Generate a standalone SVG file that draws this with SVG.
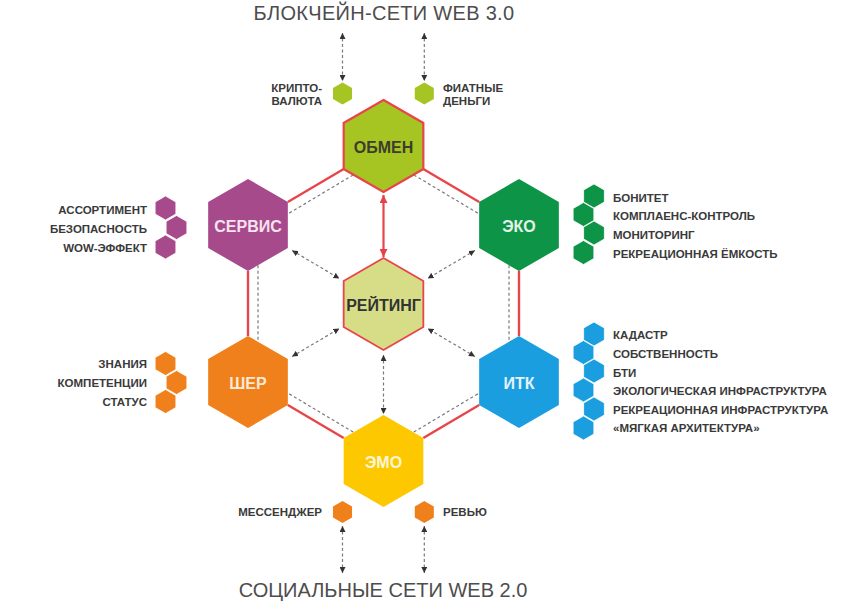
<svg xmlns="http://www.w3.org/2000/svg" xmlns:xlink="http://www.w3.org/1999/xlink" width="864" height="616" viewBox="0 0 864 616">
<style>
.title{font-family:"Liberation Sans",Arial,sans-serif;fill:#4d4d4d}
.lbl{font-family:"Liberation Sans",Arial,sans-serif;font-weight:bold;font-size:11.5px;fill:#3a3a3a}
.hl{font-family:"Liberation Sans",Arial,sans-serif;font-weight:bold;font-size:16px;text-anchor:middle}
.red{stroke:#e8454a;stroke-width:2.4;fill:none}
.dash{stroke:#7a7a7a;stroke-width:1.2;stroke-dasharray:3 2.5;fill:none}
.arr{marker-start:url(#ah);marker-end:url(#ah)}
.lime{fill:#a6c523}.pale{fill:#d6dd86}.purple{fill:#a64a8b}.green{fill:#0d9447}.orange{fill:#ef801b}.blue{fill:#1a9ee0}.yellow{fill:#fec800}
.sm{stroke:#fff;stroke-width:0.8}
</style>
<defs>
<polygon id="hx" points="0,-46 39.84,-23 39.84,23 0,46 -39.84,23 -39.84,-23"/>
<polygon id="sh" points="0,-12 10.39,-6 10.39,6 0,12 -10.39,6 -10.39,-6"/>
<polygon id="th" points="0,-11 9.53,-5.5 9.53,5.5 0,11 -9.53,5.5 -9.53,-5.5"/>
<marker id="ah" viewBox="0 0 10 10" refX="10" refY="5" markerWidth="6" markerHeight="6" markerUnits="userSpaceOnUse" orient="auto-start-reverse"><path d="M0,0 L10,5 L0,10 z" fill="#333"/></marker>
<marker id="rh" viewBox="0 0 10 10" refX="10" refY="5" markerWidth="8" markerHeight="8" markerUnits="userSpaceOnUse" orient="auto-start-reverse"><path d="M0,0 L10,5 L0,10 z" fill="#e8404a"/></marker>
</defs>
<rect width="864" height="616" fill="#fff"/>

<text class="title" x="384" y="20" font-size="20" letter-spacing="0.3" text-anchor="middle">БЛОКЧЕЙН-СЕТИ WEB 3.0</text>
<text class="title" x="383" y="597" font-size="20" text-anchor="middle">СОЦИАЛЬНЫЕ СЕТИ WEB 2.0</text>

<g id="connectors">
<line class="red" x1="343.7" y1="169" x2="287.8" y2="202"/>
<line class="red" x1="423.3" y1="169" x2="479.2" y2="202"/>
<line class="red" x1="248" y1="271" x2="248" y2="336"/>
<line class="red" x1="519" y1="271" x2="519" y2="336"/>
<line class="red" x1="287.8" y1="405" x2="343.7" y2="438"/>
<line class="red" x1="479.2" y1="405" x2="423.3" y2="438"/>
<line class="dash" x1="353.2" y1="174.9" x2="287.8" y2="214"/>
<line class="dash" x1="413.8" y1="174.9" x2="479.2" y2="214"/>
<line class="dash" x1="258" y1="265.2" x2="258" y2="341.8"/>
<line class="dash" x1="509" y1="265.2" x2="509" y2="341.8"/>
<line class="dash" x1="353.2" y1="432.1" x2="287.8" y2="393"/>
<line class="dash" x1="413.8" y1="432.1" x2="479.2" y2="393"/>
<line class="dash arr" x1="292.1" y1="250.5" x2="339.4" y2="278.5"/>
<line class="dash arr" x1="474.9" y1="250.5" x2="427.6" y2="278.5"/>
<line class="dash arr" x1="292.1" y1="356.5" x2="339.4" y2="328.5"/>
<line class="dash arr" x1="474.9" y1="356.5" x2="427.6" y2="328.5"/>
<line class="dash arr" x1="383.5" y1="355" x2="383.5" y2="414"/>
<line stroke="#e8454a" stroke-width="2.2" x1="383.5" y1="195" x2="383.5" y2="257" marker-start="url(#rh)" marker-end="url(#rh)"/>
<line class="dash arr" x1="342.5" y1="33" x2="342.5" y2="81"/>
<line class="dash arr" x1="424.3" y1="33" x2="424.3" y2="81"/>
<line class="dash arr" x1="342.5" y1="526" x2="342.5" y2="573"/>
<line class="dash arr" x1="424.3" y1="526" x2="424.3" y2="573"/>
</g>

<g id="obmen">
<use xlink:href="#hx" x="383.5" y="146" class="lime" stroke="#e8454a" stroke-width="2.2"/>
<text class="hl" x="383.5" y="152.5" fill="#3d3d2c">ОБМЕН</text>
</g>
<g id="servis">
<use xlink:href="#hx" x="248" y="225" class="purple"/>
<text class="hl" x="248" y="231.5" fill="#f7e3ef">СЕРВИС</text>
</g>
<g id="eko">
<use xlink:href="#hx" x="519" y="225" class="green"/>
<text class="hl" x="519" y="231.5" fill="#e3f3e6">ЭКО</text>
</g>
<g id="reyting">
<use xlink:href="#hx" x="383.5" y="304" class="pale" stroke="#e8454a" stroke-width="1.8"/>
<text class="hl" x="383.5" y="310.5" fill="#333">РЕЙТИНГ</text>
</g>
<g id="sher">
<use xlink:href="#hx" x="248" y="382" class="orange"/>
<text class="hl" x="248" y="388.5" fill="#fde9d6">ШЕР</text>
</g>
<g id="itk">
<use xlink:href="#hx" x="519" y="382" class="blue"/>
<text class="hl" x="519" y="388.5" fill="#e3f2fb">ИТК</text>
</g>
<g id="emo">
<use xlink:href="#hx" x="383.5" y="461" class="yellow"/>
<text class="hl" x="383.5" y="467.5" fill="#fff6d6">ЭМО</text>
</g>

<g id="kripto">
<use xlink:href="#th" x="342.5" y="93.5" class="lime"/>
<text class="lbl" x="322" y="92" text-anchor="end">КРИПТО-</text>
<text class="lbl" x="322" y="104.5" text-anchor="end">ВАЛЮТА</text>
</g>
<g id="fiat">
<use xlink:href="#th" x="424.3" y="93.5" class="lime"/>
<text class="lbl" x="443" y="92">ФИАТНЫЕ</text>
<text class="lbl" x="443" y="104.5">ДЕНЬГИ</text>
</g>

<g id="messenger">
<use xlink:href="#th" x="342.5" y="512" class="orange"/>
<text class="lbl" x="322" y="516" text-anchor="end">МЕССЕНДЖЕР</text>
</g>
<g id="review">
<use xlink:href="#th" x="424.3" y="512" class="orange"/>
<text class="lbl" x="443" y="516">РЕВЬЮ</text>
</g>

<g id="servis-items">
<use xlink:href="#sh" x="165.5" y="208" class="purple sm"/>
<use xlink:href="#sh" x="176.5" y="227.5" class="purple sm"/>
<use xlink:href="#sh" x="165.5" y="247" class="purple sm"/>
<text class="lbl" x="147" y="214" text-anchor="end">АССОРТИМЕНТ</text>
<text class="lbl" x="147" y="233" text-anchor="end">БЕЗОПАСНОСТЬ</text>
<text class="lbl" x="147" y="251.5" text-anchor="end">WOW-ЭФФЕКТ</text>
</g>

<g id="sher-items">
<use xlink:href="#sh" x="165.5" y="363.5" class="orange sm"/>
<use xlink:href="#sh" x="176.5" y="382.5" class="orange sm"/>
<use xlink:href="#sh" x="165.5" y="401.5" class="orange sm"/>
<text class="lbl" x="147" y="368" text-anchor="end">ЗНАНИЯ</text>
<text class="lbl" x="147" y="387" text-anchor="end">КОМПЕТЕНЦИИ</text>
<text class="lbl" x="147" y="405.5" text-anchor="end">СТАТУС</text>
</g>

<g id="eko-items">
<use xlink:href="#sh" x="594" y="196" class="green sm"/>
<use xlink:href="#sh" x="583.5" y="214.5" class="green sm"/>
<use xlink:href="#sh" x="594" y="233" class="green sm"/>
<use xlink:href="#sh" x="583.5" y="252.5" class="green sm"/>
<text class="lbl" x="613" y="201.5">БОНИТЕТ</text>
<text class="lbl" x="613" y="220">КОМПЛАЕНС-КОНТРОЛЬ</text>
<text class="lbl" x="613" y="239">МОНИТОРИНГ</text>
<text class="lbl" x="613" y="257.5">РЕКРЕАЦИОННАЯ ЁМКОСТЬ</text>
</g>

<g id="itk-items">
<use xlink:href="#sh" x="594" y="334" class="blue sm"/>
<use xlink:href="#sh" x="583.5" y="352.5" class="blue sm"/>
<use xlink:href="#sh" x="594" y="371" class="blue sm"/>
<use xlink:href="#sh" x="583.5" y="390" class="blue sm"/>
<use xlink:href="#sh" x="594" y="409" class="blue sm"/>
<use xlink:href="#sh" x="583.5" y="428" class="blue sm"/>
<text class="lbl" x="613" y="339">КАДАСТР</text>
<text class="lbl" x="613" y="358">СОБСТВЕННОСТЬ</text>
<text class="lbl" x="613" y="376.5">БТИ</text>
<text class="lbl" x="613" y="395">ЭКОЛОГИЧЕСКАЯ ИНФРАСТРУКТУРА</text>
<text class="lbl" x="613" y="413.5">РЕКРЕАЦИОННАЯ ИНФРАСТРУКТУРА</text>
<text class="lbl" x="613" y="432">«МЯГКАЯ АРХИТЕКТУРА»</text>
</g>
</svg>
